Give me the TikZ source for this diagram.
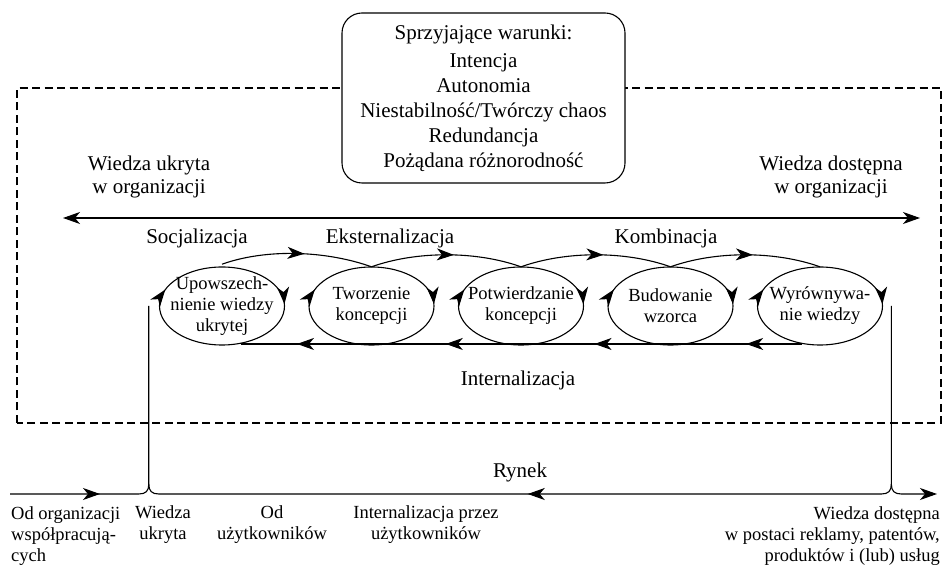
\documentclass[tikz,border=0pt]{standalone}
\usepackage{fontspec}
\setmainfont{Liberation Serif}
\usepackage{tikz}
\usetikzlibrary{arrows.meta,shapes.geometric,decorations.markings}
\tikzset{
  flow-line/.style={line width=1.1pt},
  area-frame/.style={draw, line width=1.1pt, dash pattern=on 8pt off 4.5pt},
  cond-box/.style={draw, fill=white, rounded corners=20pt, line width=1.1pt,
    minimum width=283pt, minimum height=170pt, align=center, inner sep=0pt,
    font=\fontsize{21}{25}\selectfont},
  stage-node/.style={shape=ellipse, minimum width=125pt, minimum height=78pt,
    inner sep=0pt, align=center, font=\fontsize{18.5}{21}\selectfont},
  stage-ring/.style={flow-line, postaction={decorate}, decoration={markings,
    mark=at position 0.006 with {\arrowreversed{>}},
    mark=at position 0.445 with {\arrowreversed{>}}}},
  stage-link/.style={flow-line, postaction={decorate}, decoration={markings,
    mark=at position 0.55 with {\arrow{>}}}},
  return-line/.style={flow-line, postaction={decorate}, decoration={markings,
    mark=at position 0.1 with {\arrow{>}},
    mark=at position 0.37 with {\arrow{>}},
    mark=at position 0.635 with {\arrow{>}},
    mark=at position 0.9 with {\arrow{>}}}},
  mode-label/.style={inner sep=0pt, align=center, font=\fontsize{21}{23}\selectfont},
  foot-label/.style={inner sep=0pt, font=\fontsize{18.5}{21}\selectfont}
}

\begin{document}
\begin{tikzpicture}[x=1pt, y=1pt, >={Stealth[length=17pt,width=12pt,inset=5pt]}]
  \useasboundingbox (0,0) rectangle (943,565);

  % organisation frame and conditions
  \draw[area-frame] (17,142) rectangle (941,477);
  \node[cond-box] (cond) at (483.5,467) {Sprzyjające warunki:\\[3pt]
    Intencja\\ Autonomia\\ Niestabilność/Twórczy chaos\\ Redundancja\\ Pożądana różnorodność};

  \node[mode-label] (tacit) at (149,388) {Wiedza ukryta\\w organizacji};
  \node[mode-label] (explicit) at (831,388) {Wiedza dostępna\\w organizacji};
  \coordinate (axis-l) at (63,347);
  \coordinate (axis-r) at (920,347);
  \draw[flow-line,<->] (axis-l) -- (axis-r);

  \node[mode-label] (soc) at (197,327) {Socjalizacja};
  \node[mode-label] (ext) at (390,327) {Eksternalizacja};
  \node[mode-label] (comb) at (666,327) {Kombinacja};
  \node[mode-label] (int) at (518,185) {Internalizacja};
  \node[mode-label] (market) at (520,93) {Rynek};

  % spiral of stages
  \foreach \i/\txt in {1/{Upowszech-\\nienie wiedzy\\ukrytej}, 2/{Tworzenie\\koncepcji},
      3/{Potwierdzanie\\koncepcji}, 4/{Budowanie\\wzorca}, 5/{Wyrównywa-\\nie wiedzy}}
    \node[stage-node] (e\i) at ({222+149.5*(\i-1)},259) {\txt};
  \foreach \i in {1,...,5}
    \draw[stage-ring] (e\i.center) ellipse [x radius=62.5, y radius=39];
  \foreach \i [evaluate=\i as \j using int(\i+1)] in {1,...,4}
    \draw[stage-link] (e\i.north) .. controls +(45,16) and +(-45,16) .. (e\j.north);
  \draw[return-line] (e5.-115) -- (e1.-65 |- e5.-115);

  % market line
  \coordinate (mkt-in) at (10,71);
  \coordinate (mkt-out) at (937,71);
  \coordinate (lb) at (e1.west |- mkt-in);
  \coordinate (rb) at (e5.east |- mkt-in);
  \draw[flow-line, postaction={decorate}, decoration={markings,
      mark=at position 90pt with {\arrow{>}}}]
    (mkt-in) -- ([xshift=-10pt]lb) .. controls ([xshift=-3pt]lb) and ([yshift=3pt]lb)
    .. ([yshift=10pt]lb) -- (e1.west);
  \draw[flow-line, postaction={decorate}, decoration={markings,
      mark=at position 370pt with {\arrow{>}}}]
    ([yshift=10pt]rb) .. controls ([yshift=3pt]rb) and ([xshift=-3pt]rb) .. ([xshift=-10pt]rb)
    -- ([xshift=10pt]lb) .. controls ([xshift=3pt]lb) and ([yshift=3pt]lb) .. ([yshift=10pt]lb);
  \draw[flow-line,->] (e5.east) -- ([yshift=10pt]rb) .. controls ([yshift=3pt]rb)
    and ([xshift=3pt]rb) .. ([xshift=10pt]rb) -- (mkt-out);

  \node[foot-label, anchor=west, align=left] (coop) at (11,29) {Od organizacji\\współpracują-\\cych};
  \node[foot-label, align=center] (tacit-in) at (163,40) {Wiedza\\ukryta};
  \node[foot-label, align=center] (users) at (272,40) {Od\\użytkowników};
  \node[foot-label, align=center] (int-users) at (426,40) {Internalizacja przez\\użytkowników};
  \node[foot-label, anchor=east, align=right] (explicit-out) at (940,29)
    {Wiedza dostępna\\w postaci reklamy, patentów,\\produktów i (lub) usług};
\end{tikzpicture}
\end{document}
